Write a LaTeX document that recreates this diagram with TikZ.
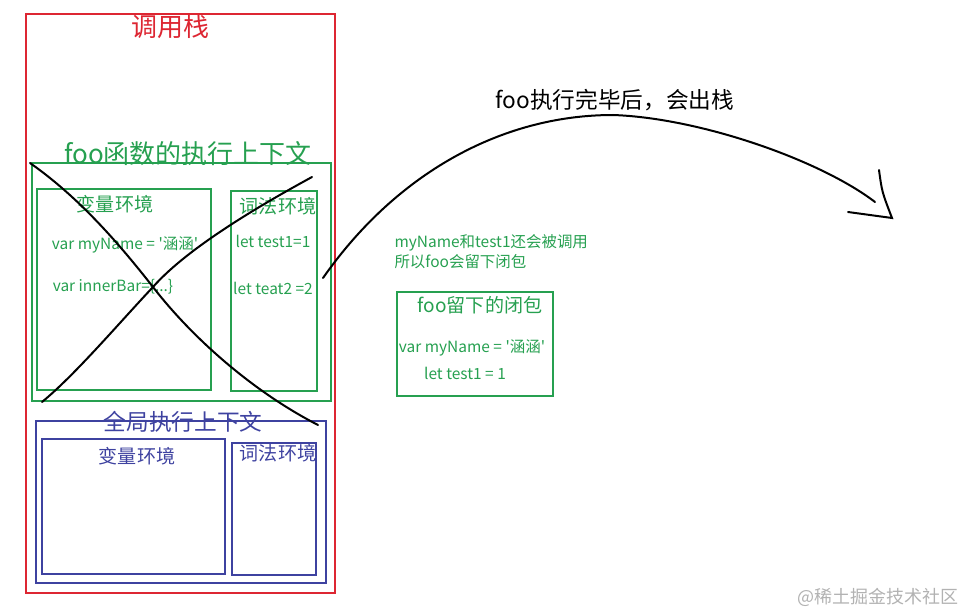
\documentclass[tikz,border=0pt]{standalone}
\usepackage{fontspec}
\newfontfamily\cjk{Noto Sans CJK SC}
\definecolor{stackred}{RGB}{221,38,50}
\definecolor{ctxgreen}{RGB}{38,160,80}
\definecolor{ctxblue}{RGB}{62,66,160}
\definecolor{markgray}{RGB}{178,178,178}

\tikzset{every picture/.style={line width=0.75pt}}
\tikzset{
  redbox/.style={draw=stackred, line width=1.5pt},
  greenbox/.style={draw=ctxgreen, line width=1.5pt},
  bluebox/.style={draw=ctxblue, line width=1.5pt},
  pen/.style={draw=black, line width=1.5pt, line cap=round},
  bigtxt/.style={font=\cjk\fontsize{19.5}{21}\selectfont},
  midtxt/.style={font=\cjk\fontsize{14.3}{16}\selectfont},
  codetxt/.style={font=\cjk\fontsize{11.6}{13}\selectfont},
}

\begin{document}
\begin{tikzpicture}[x=0.75pt,y=0.75pt,yscale=-1,xscale=1,every node/.style={inner sep=0.75pt}]
\useasboundingbox (0,0) rectangle (967,613);

% call stack
\draw [redbox] (26,14) rectangle (335,593);
\node (stacktitle) [bigtxt, text=stackred] at (170,27) {调用栈};

% foo context
\draw [greenbox] (32,163) rectangle (331,401);
\draw [greenbox] (37,189) rectangle (211,390);
\draw [greenbox] (231,191) rectangle (317,391);
\node (footitle) [bigtxt, text=ctxgreen] at (188,154) {foo函数的执行上下文};
\node (foovar) [midtxt, text=ctxgreen] at (115,204) {变量环境};
\node (foolex) [midtxt, text=ctxgreen] at (278,206) {词法环境};
\node (myname) [codetxt, text=ctxgreen] at (125,245) {var myName = '涵涵'};
\node (innerbar) [codetxt, text=ctxgreen] at (113,287) {var innerBar=\{...\}};
\node (testone) [codetxt, text=ctxgreen] at (273,241) {let test1=1};
\node (testtwo) [codetxt, text=ctxgreen] at (273,288) {let teat2 =2};

% global context
\draw [bluebox] (36,421) rectangle (326,583);
\draw [bluebox] (42,439) rectangle (225,574);
\draw [bluebox] (232,443) rectangle (316,575);
\node (globtitle) [font=\cjk\fontsize{17}{19}\selectfont, text=ctxblue] at (183,422) {全局执行上下文};
\node (globvar) [midtxt, text=ctxblue] at (137,456) {变量环境};
\node (globlex) [midtxt, text=ctxblue] at (278,453) {词法环境};

% crossed out
\coordinate (crossa) at (30,163);
\coordinate (crossb) at (318,425);
\coordinate (crossc) at (312,177);
\coordinate (crossd) at (42,402);
\coordinate (crossmid) at (153,287);
\draw [pen] (crossa) .. controls (80,198) and (120,245) .. (crossmid) .. controls (190,335) and (250,390) .. (crossb);
\draw [pen] (crossc) .. controls (270,200) and (190,245) .. (crossmid) .. controls (120,322) and (75,375) .. (crossd);

% pop off the stack
\coordinate (popstart) at (323,278);
\coordinate (poptop) at (613,115);
\coordinate (popend) at (875,202);
\coordinate (tipa) at (879,170);
\coordinate (tip) at (892,218);
\coordinate (tipb) at (848,212);
\draw [pen] (popstart) .. controls (395,175) and (500,115) .. (poptop) .. controls (700,118) and (820,160) .. (popend);
\draw [pen] (tipa) .. controls (882,192) .. (tip) -- (tipb);
\node (poptext) [font=\cjk\fontsize{17}{19}\selectfont] at (615,100) {foo执行完毕后，会出栈};

% closure
\node (note1) [codetxt, text=ctxgreen, anchor=west] at (393,243) {myName和test1还会被调用};
\node (note2) [codetxt, text=ctxgreen, anchor=west] at (393,262) {所以foo会留下闭包};
\draw [greenbox] (397,292) rectangle (553,396);
\node (clotitle) [midtxt, text=ctxgreen] at (480,305) {foo留下的闭包};
\node (cloname) [codetxt, text=ctxgreen] at (472,348) {var myName = '涵涵'};
\node (clotest) [codetxt, text=ctxgreen] at (465,373) {let test1 = 1};

\node (mark) [font=\cjk\fontsize{13.5}{15}\selectfont, text=markgray, anchor=east] at (960,597) {@稀土掘金技术社区};

\end{tikzpicture}
\end{document}
